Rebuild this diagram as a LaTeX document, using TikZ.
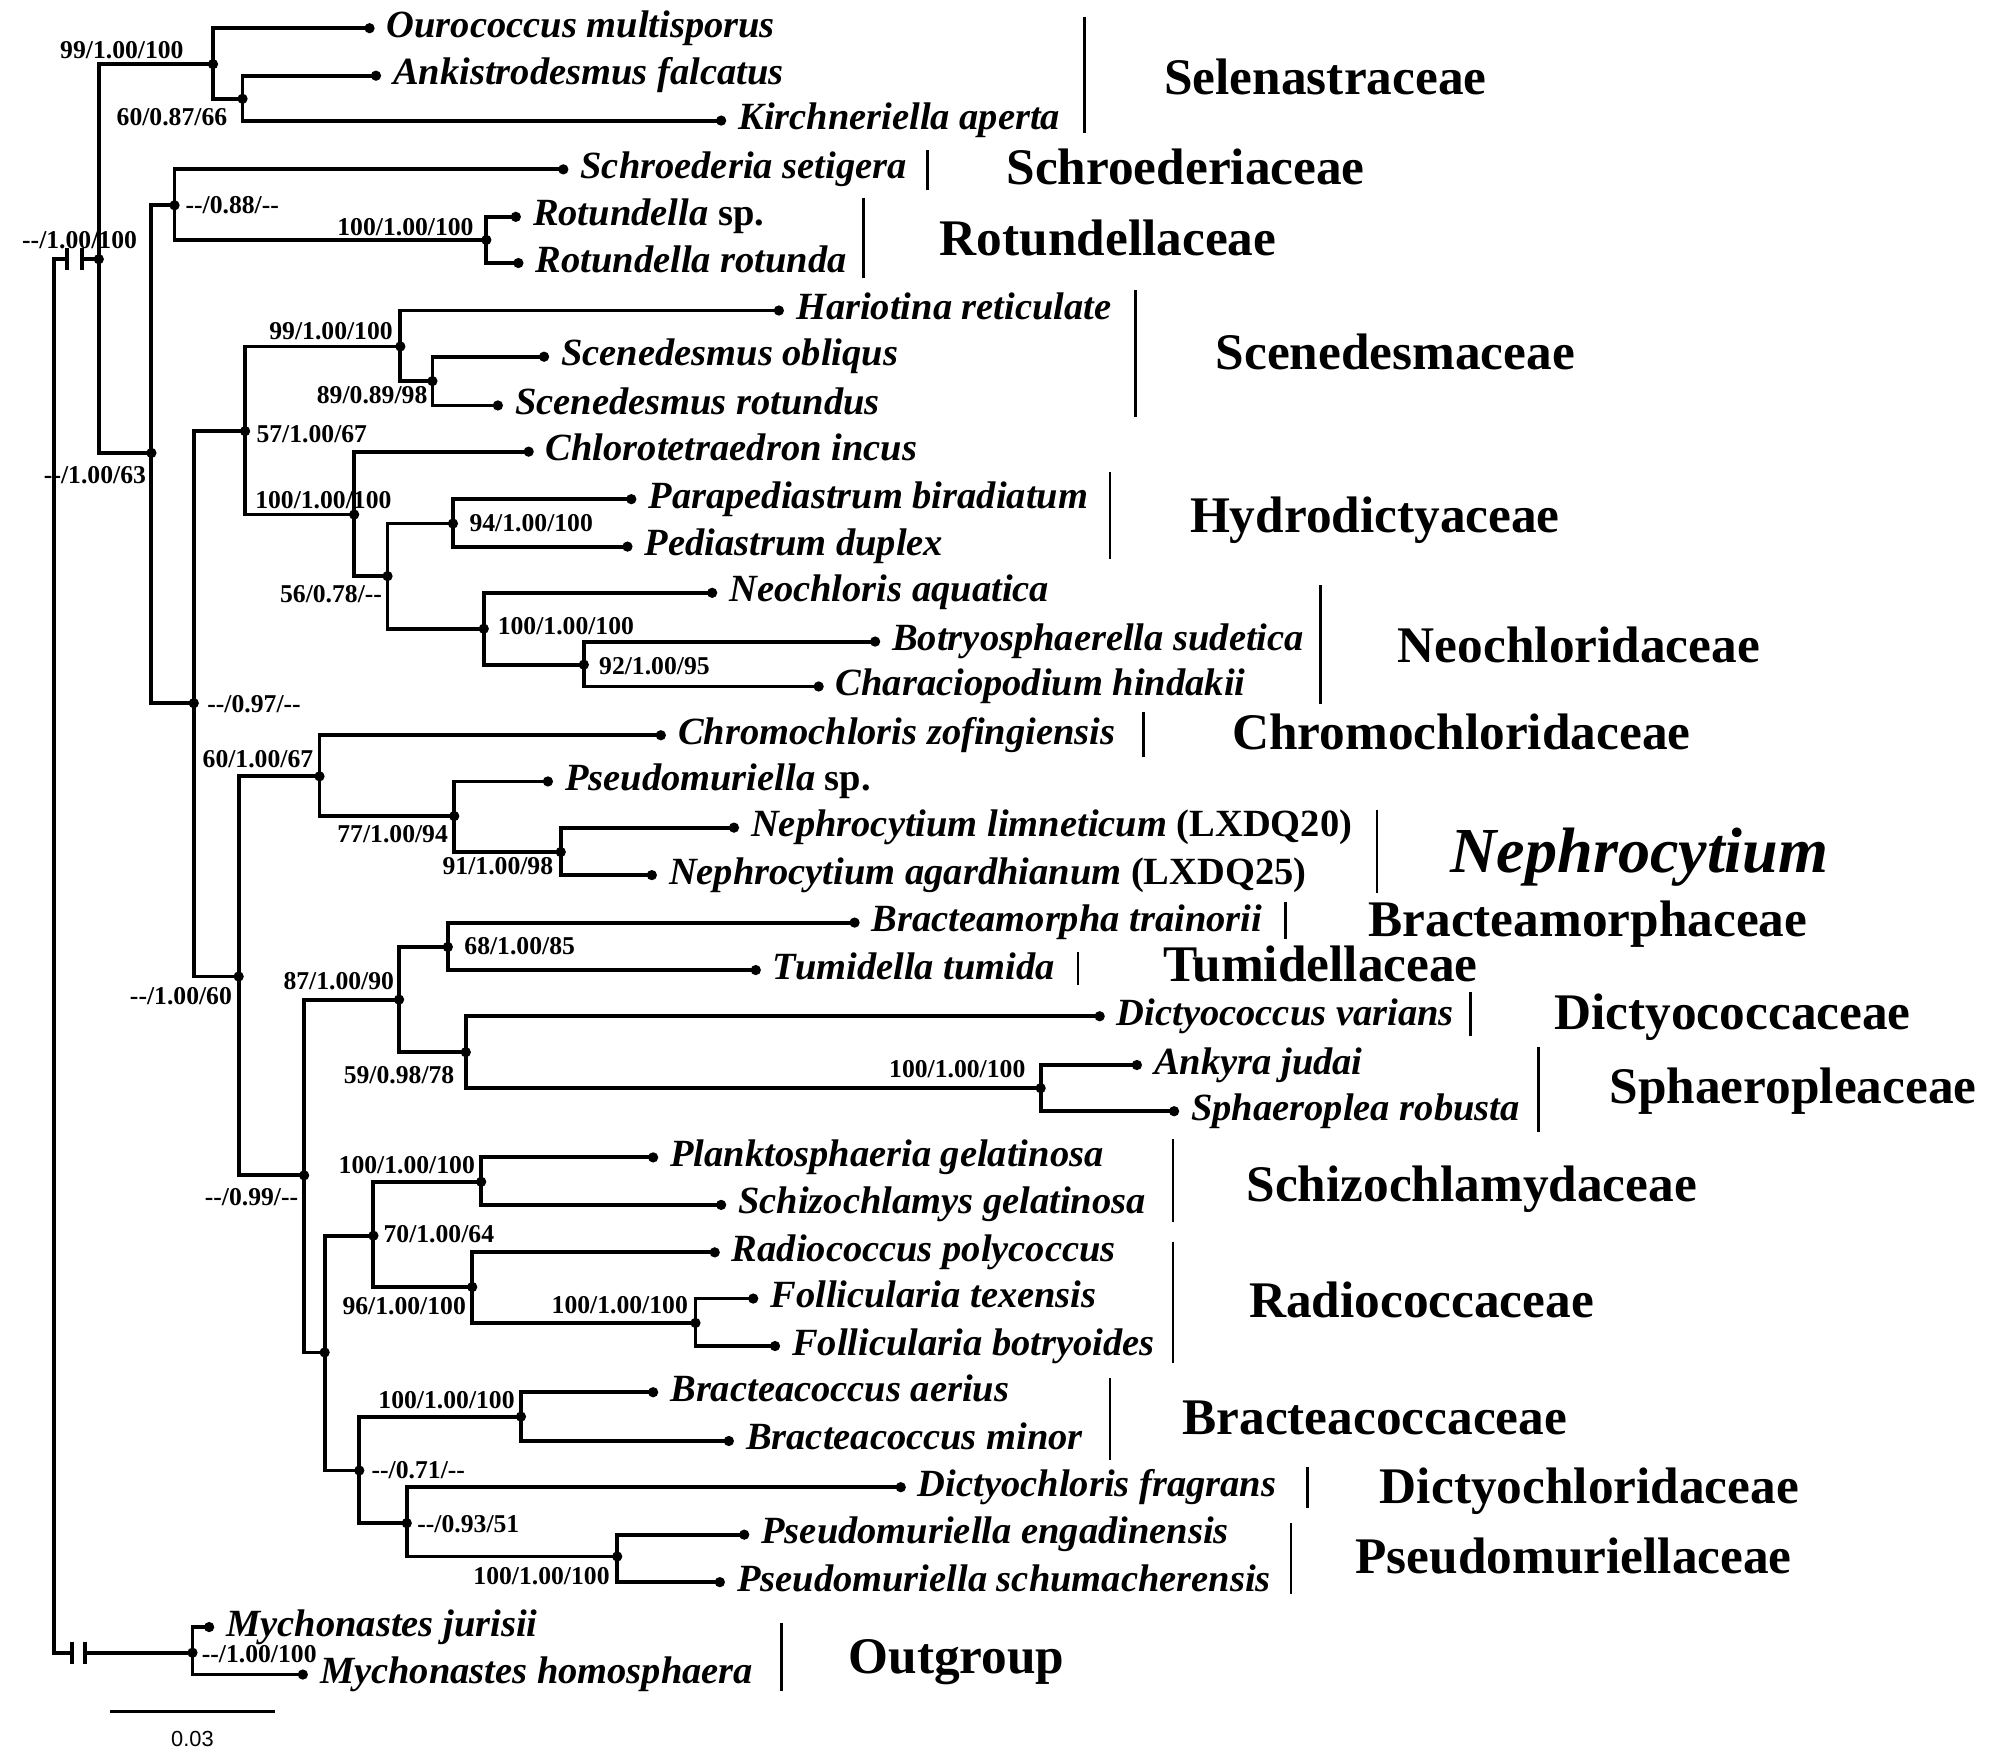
\documentclass[tikz,border=0pt]{standalone}
\usepackage{fontspec}
\newfontfamily\tnr{Liberation Serif}
\newfontfamily\arl{Liberation Sans}
\begin{document}
\begin{tikzpicture}[x=0.5pt,y=-0.5pt,
  br/.style={line width=1.5pt, line join=miter},
  tipdot/.style={circle, fill=black, inner sep=0pt, minimum size=4pt},
  taxon/.style={font=\tnr\bfseries\itshape\fontsize{15}{15}\selectfont, anchor=base west, inner sep=0pt, xshift=6.5pt, yshift=-3.5pt},
  supp/.style={font=\tnr\bfseries\fontsize{10}{10}\selectfont, anchor=base, inner sep=0pt},
  fam/.style={font=\tnr\bfseries\fontsize{20}{20}\selectfont, anchor=base west, inner sep=0pt},
  fambar/.style={line width=1pt},
  brkbar/.style={line width=1.5pt}
]
\fill[white] (0,0) rectangle (1568,1368);
\useasboundingbox (0,0) rectangle (1568,1368);

% ---------- internal nodes ----------
\node[tipdot] (ing) at (77,202) {};
\node[tipdot] (sel) at (166,50) {};
\node[tipdot] (ak) at (189,77) {};
\node[tipdot] (n63) at (118,353) {};
\node[tipdot] (n088) at (136,160) {};
\node[tipdot] (rot) at (379,187) {};
\node[tipdot] (n097) at (151,548) {};
\node[tipdot] (n57) at (191,336) {};
\node[tipdot] (n99s) at (312,270) {};
\node[tipdot] (n89) at (337,297) {};
\node[tipdot] (n100h) at (276,401) {};
\node[tipdot] (n56) at (302,449) {};
\node[tipdot] (n94) at (353,408) {};
\node[tipdot] (n100n) at (377,490) {};
\node[tipdot] (n92) at (455,518) {};
\node[tipdot] (n60) at (186,761) {};
\node[tipdot] (n60b) at (249,605) {};
\node[tipdot] (n77) at (354,636) {};
\node[tipdot] (n91) at (437,664) {};
\node[tipdot] (n099) at (237,916) {};
\node[tipdot] (n87) at (311,779) {};
\node[tipdot] (n68) at (349,738) {};
\node[tipdot] (n59) at (363,820) {};
\node[tipdot] (n100s) at (811,848) {};
\node[tipdot] (n1053) at (253,1054) {};
\node[tipdot] (n70) at (291,963) {};
\node[tipdot] (n100sc) at (375,921) {};
\node[tipdot] (n96) at (368,1003) {};
\node[tipdot] (n100f) at (542,1031) {};
\node[tipdot] (n071) at (280,1146) {};
\node[tipdot] (n100b) at (406,1104) {};
\node[tipdot] (n093) at (317,1187) {};
\node[tipdot] (n100p) at (481,1213) {};
\node[tipdot] (out) at (150,1288) {};

% ---------- tips ----------
\node[tipdot] (t1) at (288,22) {};
\node[tipdot] (t2) at (293,59) {};
\node[tipdot] (t3) at (562,94) {};
\node[tipdot] (t4) at (439,132) {};
\node[tipdot] (t5) at (402,169) {};
\node[tipdot] (t6) at (404,205) {};
\node[tipdot] (t7) at (607,242) {};
\node[tipdot] (t8) at (424,278) {};
\node[tipdot] (t9) at (388,316) {};
\node[tipdot] (t10) at (412,352) {};
\node[tipdot] (t11) at (492,389) {};
\node[tipdot] (t12) at (489,426) {};
\node[tipdot] (t13) at (555,462) {};
\node[tipdot] (t14) at (682,500) {};
\node[tipdot] (t15) at (638,535) {};
\node[tipdot] (t16) at (515,573) {};
\node[tipdot] (t17) at (427,609) {};
\node[tipdot] (t18) at (572,645) {};
\node[tipdot] (t19) at (508,682) {};
\node[tipdot] (t20) at (666,719) {};
\node[tipdot] (t21) at (589,756) {};
\node[tipdot] (t22) at (857,792) {};
\node[tipdot] (t23) at (886,830) {};
\node[tipdot] (t24) at (915,866) {};
\node[tipdot] (t25) at (509,902) {};
\node[tipdot] (t26) at (562,939) {};
\node[tipdot] (t27) at (557,976) {};
\node[tipdot] (t28) at (587,1012) {};
\node[tipdot] (t29) at (604,1049) {};
\node[tipdot] (t30) at (509,1085) {};
\node[tipdot] (t31) at (568,1123) {};
\node[tipdot] (t32) at (702,1159) {};
\node[tipdot] (t33) at (580,1196) {};
\node[tipdot] (t34) at (561,1233) {};
\node[tipdot] (t35) at (163,1268) {};
\node[tipdot] (t36) at (236,1305) {};

% ---------- root with broken branches ----------
\coordinate (rtop) at (42,202);
\coordinate (rbot) at (42,1288);
\coordinate (bA1) at (52,202);
\coordinate (bA2) at (64,202);
\coordinate (bB1) at (56,1288);
\coordinate (bB2) at (66,1288);
\draw[br] (bA1) -- (rtop) -- (rbot) -- (bB1);
\draw[br] (bA2) -- (ing.center);
\draw[br] (bB2) -- (out.center);
\foreach \b in {bA1,bA2,bB1,bB2}
  \draw[brkbar] ([yshift=4.25pt]\b) -- ([yshift=-4.25pt]\b);

% ---------- branches ----------
\foreach \p/\c in {ing/sel, ing/n63, sel/t1, sel/ak, ak/t2, ak/t3,
  n63/n088, n63/n097, n088/t4, n088/rot, rot/t5, rot/t6,
  n097/n57, n097/n60, n57/n99s, n57/n100h, n99s/t7, n99s/n89, n89/t8, n89/t9,
  n100h/t10, n100h/n56, n56/n94, n56/n100n, n94/t11, n94/t12,
  n100n/t13, n100n/n92, n92/t14, n92/t15,
  n60/n60b, n60/n099, n60b/t16, n60b/n77, n77/t17, n77/n91, n91/t18, n91/t19,
  n099/n87, n099/n1053, n87/n68, n87/n59, n68/t20, n68/t21,
  n59/t22, n59/n100s, n100s/t23, n100s/t24,
  n1053/n70, n1053/n071, n70/n100sc, n70/n96, n100sc/t25, n100sc/t26,
  n96/t27, n96/n100f, n100f/t28, n100f/t29,
  n071/n100b, n071/n093, n100b/t30, n100b/t31, n093/t32, n093/n100p,
  n100p/t33, n100p/t34, out/t35, out/t36}
  \draw[br] (\p.center) |- (\c.center);

% ---------- taxon names ----------
\node[taxon] (l1) at (t1.center) {Ourococcus multisporus};
\node[taxon] (l2) at (t2.center) {Ankistrodesmus falcatus};
\node[taxon] (l3) at (t3.center) {Kirchneriella aperta};
\node[taxon] (l4) at (t4.center) {Schroederia setigera};
\node[taxon] (l5) at (t5.center) {Rotundella {\upshape sp.}};
\node[taxon] (l6) at (t6.center) {Rotundella rotunda};
\node[taxon] (l7) at (t7.center) {Hariotina reticulate};
\node[taxon] (l8) at (t8.center) {Scenedesmus obliqus};
\node[taxon] (l9) at (t9.center) {Scenedesmus rotundus};
\node[taxon] (l10) at (t10.center) {Chlorotetraedron incus};
\node[taxon] (l11) at (t11.center) {Parapediastrum biradiatum};
\node[taxon] (l12) at (t12.center) {Pediastrum duplex};
\node[taxon] (l13) at (t13.center) {Neochloris aquatica};
\node[taxon] (l14) at (t14.center) {Botryosphaerella sudetica};
\node[taxon] (l15) at (t15.center) {Characiopodium hindakii};
\node[taxon] (l16) at (t16.center) {Chromochloris zofingiensis};
\node[taxon] (l17) at (t17.center) {Pseudomuriella {\upshape sp.}};
\node[taxon] (l18) at (t18.center) {Nephrocytium limneticum {\upshape (LXDQ20)}};
\node[taxon] (l19) at (t19.center) {Nephrocytium agardhianum {\upshape (LXDQ25)}};
\node[taxon] (l20) at (t20.center) {Bracteamorpha trainorii};
\node[taxon] (l21) at (t21.center) {Tumidella tumida};
\node[taxon] (l22) at (t22.center) {Dictyococcus varians};
\node[taxon] (l23) at (t23.center) {Ankyra judai};
\node[taxon] (l24) at (t24.center) {Sphaeroplea robusta};
\node[taxon] (l25) at (t25.center) {Planktosphaeria gelatinosa};
\node[taxon] (l26) at (t26.center) {Schizochlamys gelatinosa};
\node[taxon] (l27) at (t27.center) {Radiococcus polycoccus};
\node[taxon] (l28) at (t28.center) {Follicularia texensis};
\node[taxon] (l29) at (t29.center) {Follicularia botryoides};
\node[taxon] (l30) at (t30.center) {Bracteacoccus aerius};
\node[taxon] (l31) at (t31.center) {Bracteacoccus minor};
\node[taxon] (l32) at (t32.center) {Dictyochloris fragrans};
\node[taxon] (l33) at (t33.center) {Pseudomuriella engadinensis};
\node[taxon] (l34) at (t34.center) {Pseudomuriella schumacherensis};
\node[taxon] (l35) at (t35.center) {Mychonastes jurisii};
\node[taxon] (l36) at (t36.center) {Mychonastes homosphaera};

% ---------- support values ----------
\node[supp] (s1) at (62,193.5) {-{}-/1.00/100};
\node[supp] (s2) at (95,45.5) {99/1.00/100};
\node[supp] (s3) at (134,97.5) {60/0.87/66};
\node[supp] (s4) at (181,166.5) {-{}-/0.88/-{}-};
\node[supp] (s5) at (316,183.5) {100/1.00/100};
\node[supp] (s6) at (258,264.5) {99/1.00/100};
\node[supp] (s7) at (290,314.5) {89/0.89/98};
\node[supp] (s8) at (243,344.5) {57/1.00/67};
\node[supp] (s9) at (252,396.5) {100/1.00/100};
\node[supp] (s10) at (414,414.5) {94/1.00/100};
\node[supp] (s11) at (258,469.5) {56/0.78/-{}-};
\node[supp] (s12) at (441,494.5) {100/1.00/100};
\node[supp] (s13) at (510,525.5) {92/1.00/95};
\node[supp] (s14) at (198,555.5) {-{}-/0.97/-{}-};
\node[supp] (s15) at (201,598.5) {60/1.00/67};
\node[supp] (s16) at (306,656.5) {77/1.00/94};
\node[supp] (s17) at (388,681.5) {91/1.00/98};
\node[supp] (s18) at (405,743.5) {68/1.00/85};
\node[supp] (s19) at (264,771.5) {87/1.00/90};
\node[supp] (s20) at (141,782.5) {-{}-/1.00/60};
\node[supp] (s21) at (311,844.5) {59/0.98/78};
\node[supp] (s22) at (746,839.5) {100/1.00/100};
\node[supp] (s23) at (196,939.5) {-{}-/0.99/-{}-};
\node[supp] (s24) at (317,914.5) {100/1.00/100};
\node[supp] (s25) at (342,968.5) {70/1.00/64};
\node[supp] (s26) at (315,1024.5) {96/1.00/100};
\node[supp] (s27) at (483,1023.5) {100/1.00/100};
\node[supp] (s28) at (348,1097.5) {100/1.00/100};
\node[supp] (s29) at (326,1152.5) {-{}-/0.71/-{}-};
\node[supp] (s30) at (365,1194.5) {-{}-/0.93/51};
\node[supp] (s31) at (422,1234.5) {100/1.00/100};
\node[supp] (s32) at (202,1295.5) {-{}-/1.00/100};
\node[supp] (s33) at (74,376.5) {-{}-/1.00/63};

% ---------- family bars and names ----------
\draw[fambar] (845,13) -- (845,104);   \node[fam] (f1) at (907,74) {Selenastraceae};
\draw[fambar] (723,117) -- (723,148);  \node[fam] (f2) at (784,144) {Schroederiaceae};
\draw[fambar] (673,154) -- (673,217);  \node[fam] (f3) at (732,199) {Rotundellaceae};
\draw[fambar] (885,226) -- (885,325);  \node[fam] (f4) at (947,288) {Scenedesmaceae};
\draw[fambar] (865,368) -- (865,436);  \node[fam] (f5) at (927,415) {Hydrodictyaceae};
\draw[fambar] (1029,456) -- (1029,549); \node[fam] (f6) at (1089,516) {Neochloridaceae};
\draw[fambar] (891,555) -- (891,590);  \node[fam] (f7) at (960,584) {Chromochloridaceae};
\draw[fambar] (1073,631) -- (1073,696); \node[fam, font=\tnr\bfseries\itshape\fontsize{25}{25}\selectfont] (f8) at (1130,680) {Nephrocytium};
\draw[fambar] (1002,703) -- (1002,732); \node[fam] (f9) at (1066,730) {Bracteamorphaceae};
\draw[fambar] (840,742) -- (840,768);  \node[fam] (f10) at (906,765) {Tumidellaceae};
\draw[fambar] (1146,773) -- (1146,807); \node[fam] (f11) at (1211,802) {Dictyococcaceae};
\draw[fambar] (1199,816) -- (1199,882); \node[fam] (f12) at (1254,860) {Sphaeropleaceae};
\draw[fambar] (914,888) -- (914,952);  \node[fam] (f13) at (971,936) {Schizochlamydaceae};
\draw[fambar] (914,968) -- (914,1062); \node[fam] (f14) at (973,1027) {Radiococcaceae};
\draw[fambar] (865,1074) -- (865,1138); \node[fam] (f15) at (921,1118) {Bracteacoccaceae};
\draw[fambar] (1019,1143) -- (1019,1175); \node[fam] (f16) at (1075,1172) {Dictyochloridaceae};
\draw[fambar] (1006,1187) -- (1006,1242); \node[fam] (f17) at (1056,1226) {Pseudomuriellaceae};
\draw[fambar] (609,1265) -- (609,1318); \node[fam] (f18) at (661,1304) {Outgroup};

% ---------- scale bar ----------
\coordinate (sbL) at (86,1334);
\coordinate (sbR) at (214,1334);
\draw[line width=1pt] (sbL) -- (sbR);
\node[font=\arl\fontsize{8.5}{9}\selectfont, inner sep=0pt] (sbt) at (150,1355) {0.03};
\end{tikzpicture}
\end{document}
